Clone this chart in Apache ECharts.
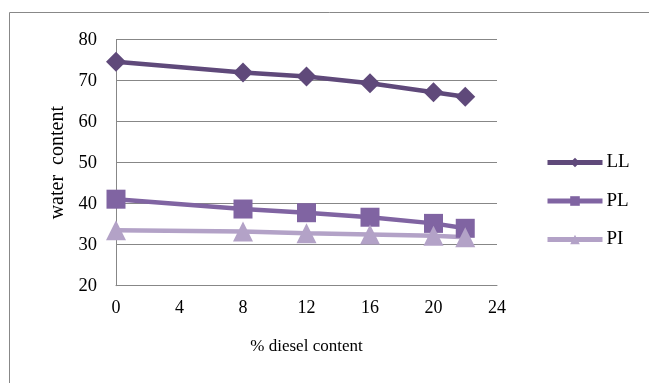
<!DOCTYPE html>
<html>
<head>
<meta charset="utf-8">
<script src="https://cdn.jsdelivr.net/npm/echarts@6/dist/echarts.min.js"></script>
<style>
  html, body { margin: 0; padding: 0; background: #fff; }
  #chart { width: 649px; height: 383px; }
</style>
</head>
<body>
<div id="chart"></div>
<script>
// Diesel content (%) on the x axis
const dieselContent = [0, 8, 12, 16, 20, 22];
// Atterberg limits (water content) for each diesel content
const liquidLimit = [74.6, 72.0, 71.0, 69.4, 67.2, 66.1];
const plasticLimit = [41.1, 38.7, 37.8, 36.7, 35.2, 34.0];
const plasticityIndex = [33.5, 33.2, 32.8, 32.5, 32.2, 31.8];
const seriesNames = ['LL', 'PL', 'PI'];

const serif = '"Liberation Serif", "DejaVu Serif", serif';
const colors = ['#5f497a', '#8064a2', '#b3a2c7'];

function pairs(ys) {
  return dieselContent.map((x, i) => [x, ys[i]]);
}

const chart = echarts.init(document.getElementById('chart'), null, { renderer: 'canvas' });

function lineSeries(name, values, symbol, size, color) {
  return {
    name: name, type: 'line', data: pairs(values),
    symbol: symbol, symbolSize: size,
    lineStyle: { width: 4.5, color: color },
    itemStyle: { color: color }
  };
}

chart.setOption({
  animation: false,
  backgroundColor: '#ffffff',
  color: colors,
  graphic: [{
    type: 'rect',
    shape: { x: 9.5, y: 12.5, width: 700, height: 400 },
    style: { fill: 'none', stroke: '#888888', lineWidth: 1 },
    silent: true
  }],
  grid: { left: 116, right: 152, top: 39.7, bottom: 97.3, containLabel: false },
  legend: {
    orient: 'vertical',
    left: 545,
    top: 153,
    padding: 0,
    itemWidth: 55,
    itemHeight: 12,
    itemGap: 19.5,
    lineStyle: { width: 5 },
    textStyle: { fontFamily: serif, fontSize: 19, color: '#000', padding: [0, 0, 0, -1] },
    data: seriesNames
  },
  xAxis: {
    type: 'value',
    min: 0,
    max: 24,
    interval: 4,
    name: '% diesel content',
    nameLocation: 'middle',
    nameGap: 52,
    nameTextStyle: { fontFamily: serif, fontSize: 17, color: '#000' },
    axisLine: { show: true, lineStyle: { color: '#878787', width: 1 } },
    axisTick: { show: false },
    splitLine: { show: false },
    axisLabel: { fontFamily: serif, fontSize: 18, color: '#000', margin: 14 }
  },
  yAxis: {
    type: 'value',
    min: 20,
    max: 80,
    interval: 10,
    name: 'water  content',
    nameLocation: 'middle',
    nameGap: 48,
    nameTextStyle: { fontFamily: serif, fontSize: 20, color: '#000' },
    axisLine: { show: true, lineStyle: { color: '#878787', width: 1 } },
    axisTick: { show: false },
    splitLine: { show: true, lineStyle: { color: '#878787', width: 1 } },
    axisLabel: { fontFamily: serif, fontSize: 18.5, color: '#000', margin: 19 }
  },
  series: [
    lineSeries('LL', liquidLimit, 'diamond', 20, colors[0]),
    lineSeries('PL', plasticLimit, 'rect', 19, colors[1]),
    lineSeries('PI', plasticityIndex, 'triangle', 20, colors[2])
  ]
});
</script>
</body>
</html>
